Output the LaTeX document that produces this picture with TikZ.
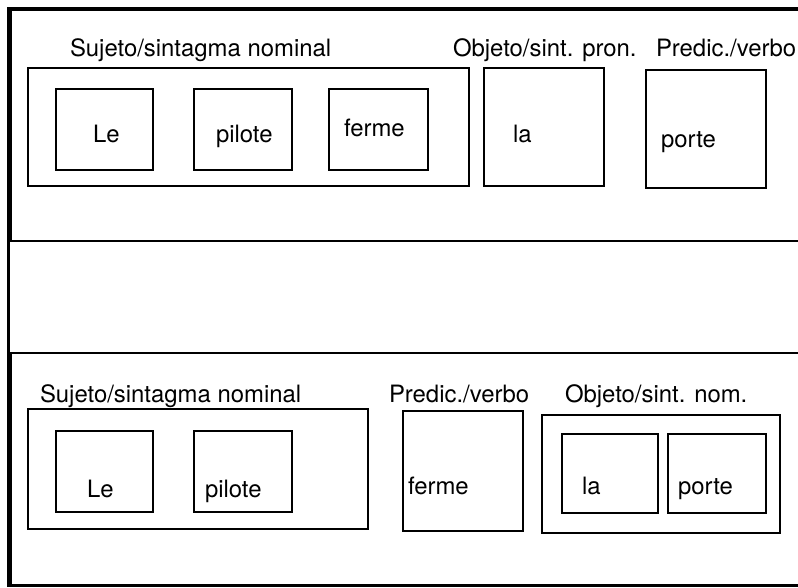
\documentclass[tikz,border=0pt]{standalone}
\usepackage{fontspec}
\setmainfont{TeX Gyre Heros}
\begin{document}
\begin{tikzpicture}[x=1pt,y=-1pt,
  box/.style={draw, line width=1.5pt, rectangle, inner sep=0pt, outer sep=0pt},
  panel/.style={draw, line width=1.5pt, rectangle, inner sep=0pt, outer sep=0pt},
  outerframe/.style={draw, line width=2.4pt, rectangle, inner sep=0pt, outer sep=0pt},
  lbl/.style={anchor=base west, inner sep=0pt, outer sep=0pt, font=\fontsize{23.9}{28}\selectfont}]
\useasboundingbox (0,0) rectangle (798,588);
\clip (0,0) rectangle (798,588);
\fill[white] (0,0) rectangle (798,588);
% outer frame
\node[outerframe, minimum width=796, minimum height=578] (frame) at (406.5,297) {};
% panels
\node[panel, minimum width=791, minimum height=231] (toppanel) at (406.5,125.5) {};
\node[panel, minimum width=791, minimum height=232] (botpanel) at (406.5,469) {};

% ---- top panel ----
\node[lbl] (tsubjlbl) at (70,57) {Sujeto/sintagma nominal};
\node[lbl] (tobjlbl) at (453,57) {Objeto/sint. pron.};
\node[lbl] (tpredlbl) at (656,57) {Predic./verbo};
\node[box, minimum width=441, minimum height=118] (tsubj) at (248.5,127) {};
\node[box, minimum width=97, minimum height=81] (tle) at (104.5,129.5) {};
\node[box, minimum width=98, minimum height=81] (tpilote) at (243,129.5) {};
\node[box, minimum width=99, minimum height=81] (tferme) at (378.5,129.5) {};
\node[box, minimum width=120, minimum height=118] (tla) at (544,127) {};
\node[box, minimum width=120, minimum height=118] (tporte) at (706,129) {};
\node[lbl] (tletxt) at (93,143) {Le};
\node[lbl] (tpilotetxt) at (216,143) {pilote};
\node[lbl] (tfermetxt) at (344,137) {ferme};
\node[lbl] (tlatxt) at (513,143) {la};
\node[lbl] (tportetxt) at (661,148) {porte};

% ---- bottom panel ----
\node[lbl] (bsubjlbl) at (40,402.7) {Sujeto/sintagma nominal};
\node[lbl] (bpredlbl) at (389,402.7) {Predic./verbo};
\node[lbl] (bobjlbl) at (565,402.7) {Objeto/sint. nom.};
\node[box, minimum width=340, minimum height=120] (bsubj) at (198,469) {};
\node[box, minimum width=97, minimum height=81] (ble) at (104.5,471.5) {};
\node[box, minimum width=98, minimum height=81] (bpilote) at (243,471.5) {};
\node[box, minimum width=120, minimum height=120] (bferme) at (463,471) {};
\node[box, minimum width=238, minimum height=118] (bobj) at (661,474) {};
\node[box, minimum width=96, minimum height=79] (bla) at (610,473.5) {};
\node[box, minimum width=98, minimum height=79] (bporte) at (717,473.5) {};
\node[lbl] (bletxt) at (87,497) {Le};
\node[lbl] (bpilotetxt) at (205,497) {pilote};
\node[lbl] (bfermetxt) at (408,494) {ferme};
\node[lbl] (blatxt) at (582,494) {la};
\node[lbl] (bportetxt) at (678,494) {porte};
\end{tikzpicture}
\end{document}
